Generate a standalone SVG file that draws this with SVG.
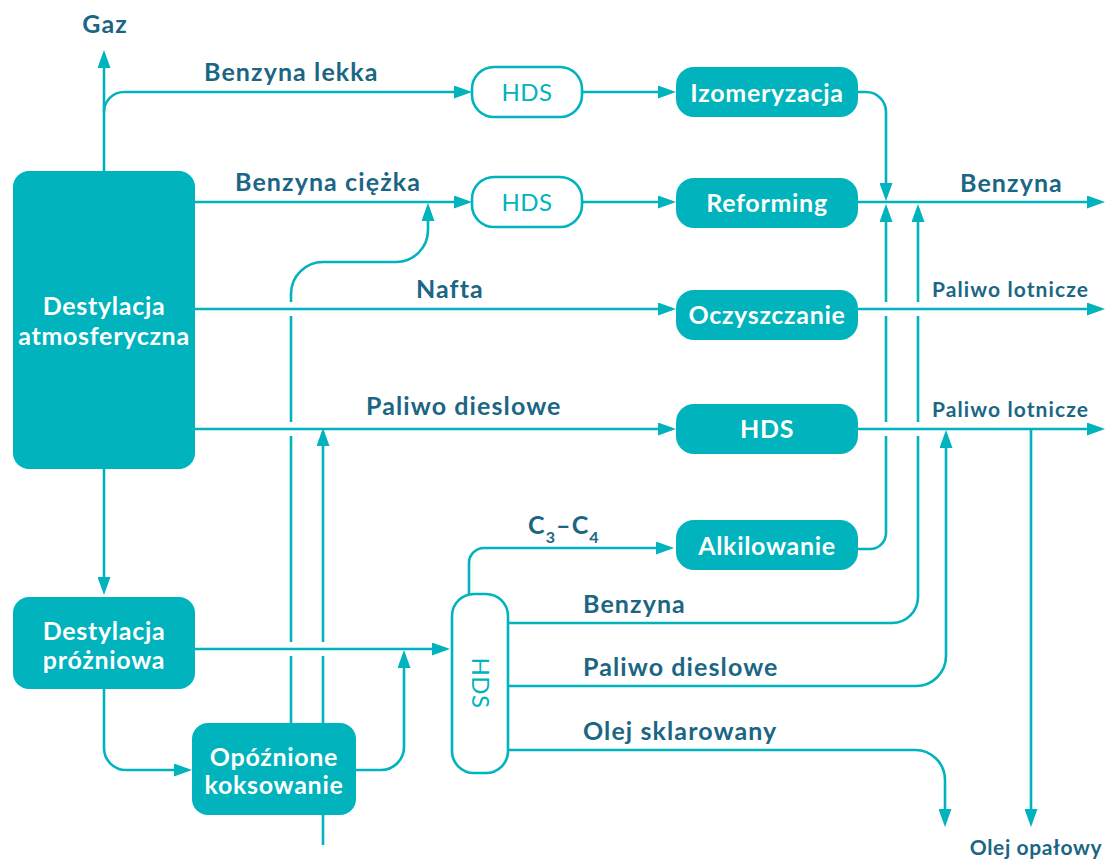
<svg xmlns="http://www.w3.org/2000/svg" width="1107" height="860" viewBox="0 0 1107 860">
<defs>
<marker id="arr" viewBox="0 0 18 13" refX="14" refY="6.5" markerWidth="18" markerHeight="13" markerUnits="userSpaceOnUse" orient="auto">
<path d="M0,0 L18,6.5 L0,13 z" fill="#00B3BD"/>
</marker>
<style>
.c{fill:none;stroke:#00B3BD;stroke-width:2.6}
.a{marker-end:url(#arr)}
.n{fill:#00B3BD}
.o{fill:#FFFFFF;stroke:#00B3BD;stroke-width:2.6}
.t{font-family:Lato,"Liberation Sans",sans-serif;font-weight:bold;font-size:25px;letter-spacing:0.7px;fill:#FFFFFF;text-anchor:middle}
.to{font-family:Lato,"Liberation Sans",sans-serif;font-weight:normal;font-size:24px;letter-spacing:0.5px;fill:#00B3BD;text-anchor:middle}
.l{font-family:Lato,"Liberation Sans",sans-serif;font-weight:bold;font-size:25px;letter-spacing:1.1px;fill:#1B6684}
.ls{font-family:Lato,"Liberation Sans",sans-serif;font-weight:bold;font-size:21px;letter-spacing:1.1px;fill:#1B6684}
</style>
</defs>
<rect width="1107" height="860" fill="#FFFFFF"/>
<g id="connectors">
<path class="c a" d="M104,171 V54"/>
<path class="c a" d="M104,112 A20,20 0 0 1 124,92 H468"/>
<path class="c a" d="M582,92 H672"/>
<path class="c a" d="M858,92 H866 A20,20 0 0 1 886,112 V197"/>
<path class="c a" d="M195,202 H468"/>
<path class="c a" d="M582,202 H672"/>
<path class="c a" d="M858,202 H1101"/>
<path class="c a" d="M195,309 H672"/>
<path class="c a" d="M858,309 H1101"/>
<path class="c a" d="M195,429 H672"/>
<path class="c a" d="M858,429 H1101"/>
<path class="c a" d="M1031,429 V823"/>
<path class="c a" d="M104,469 V591"/>
<path class="c a" d="M195,649 H446"/>
<path class="c a" d="M104,689 V748 A22,22 0 0 0 126,770 H188"/>
<path class="c" d="M291,723 V656 M291,642 V436 M291,422 V316"/>
<path class="c a" d="M291,302 V294 A32,32 0 0 1 323,262 H396 A32,32 0 0 0 428,230 V207"/>
<path class="c" d="M323,845 V656"/>
<path class="c a" d="M323,642 V432"/>
<path class="c a" d="M356,770 H381 A23,23 0 0 0 404,747 V654"/>
<path class="c a" d="M469,594 V563 A15,15 0 0 1 484,548 H670"/>
<path class="c" d="M858,549 H870 A16,16 0 0 0 886,533 V436 M886,422 V316"/>
<path class="c a" d="M886,302 V208"/>
<path class="c" d="M508,623 H892 A26,26 0 0 0 918,597 V436 M918,422 V316"/>
<path class="c a" d="M918,302 V208"/>
<path class="c a" d="M508,686 H916 A30,30 0 0 0 946,656 V434"/>
<path class="c a" d="M508,750 H915 A30,30 0 0 1 945,780 V823"/>
</g>
<g id="labels">
<text class="l" x="105" y="33" text-anchor="middle">Gaz</text>
<text class="l" x="204" y="81">Benzyna lekka</text>
<text class="l" x="235" y="191">Benzyna ciężka</text>
<text class="l" x="416" y="298">Nafta</text>
<text class="l" x="366" y="415">Paliwo dieslowe</text>
<text class="l" x="960" y="192">Benzyna</text>
<text class="ls" x="932" y="297">Paliwo lotnicze</text>
<text class="ls" x="932" y="417">Paliwo lotnicze</text>
<text class="l" x="528" y="534">C<tspan font-size="16" dy="9">3</tspan><tspan dy="-9">–C</tspan><tspan font-size="16" dy="9">4</tspan></text>
<text class="l" x="583" y="613">Benzyna</text>
<text class="l" x="583" y="676">Paliwo dieslowe</text>
<text class="l" x="583" y="740">Olej sklarowany</text>
<text class="l" x="1036" y="855" text-anchor="middle" style="font-size:21px;letter-spacing:0.6px">Olej opałowy</text>
</g>
<g id="node-atm">
<rect class="n" x="13" y="171" width="182" height="298" rx="16"/>
<text class="t" x="104" y="315">Destylacja</text>
<text class="t" x="104" y="345">atmosferyczna</text>
</g>
<g id="node-vac">
<rect class="n" x="13" y="597" width="182" height="92" rx="16"/>
<text class="t" x="104" y="640">Destylacja</text>
<text class="t" x="104" y="669">próżniowa</text>
</g>
<g id="node-coking">
<rect class="n" x="192" y="723" width="164" height="92" rx="16"/>
<text class="t" x="274" y="766">Opóźnione</text>
<text class="t" x="274" y="794">koksowanie</text>
</g>
<g id="node-hds1">
<rect class="o" x="472" y="67" width="110" height="50" rx="22"/>
<text class="to" x="527" y="101">HDS</text>
</g>
<g id="node-hds2">
<rect class="o" x="472" y="177" width="110" height="50" rx="22"/>
<text class="to" x="527" y="211">HDS</text>
</g>
<g id="node-izo">
<rect class="n" x="676" y="67" width="182" height="50" rx="18"/>
<text class="t" x="767" y="102">Izomeryzacja</text>
</g>
<g id="node-reforming">
<rect class="n" x="676" y="178" width="182" height="50" rx="18"/>
<text class="t" x="767" y="212">Reforming</text>
</g>
<g id="node-oczysz">
<rect class="n" x="676" y="290" width="182" height="50" rx="18"/>
<text class="t" x="767" y="324">Oczyszczanie</text>
</g>
<g id="node-hds3">
<rect class="n" x="676" y="404" width="182" height="50" rx="18"/>
<text class="t" x="767" y="438">HDS</text>
</g>
<g id="node-alkil">
<rect class="n" x="676" y="520" width="182" height="50" rx="18"/>
<text class="t" x="767" y="555">Alkilowanie</text>
</g>
<g id="node-hds-v">
<rect class="o" x="452" y="594" width="56" height="179" rx="22"/>
<text class="to" x="0" y="0" transform="translate(472,683) rotate(90)">HDS</text>
</g>
</svg>
